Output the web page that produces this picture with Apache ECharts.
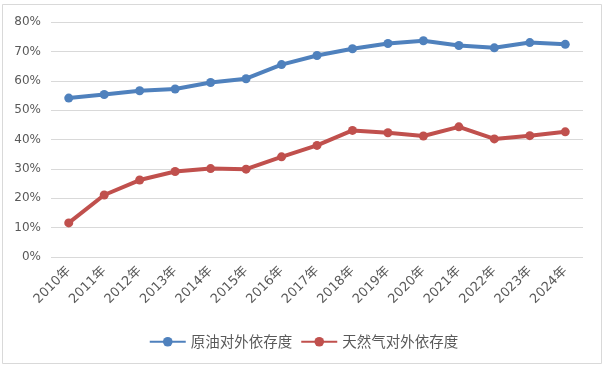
<!DOCTYPE html>
<html><head><meta charset="utf-8">
<script src="https://cdn.jsdelivr.net/npm/echarts@6/dist/echarts.min.js"></script>
<style>html,body{margin:0;padding:0;background:#fff}#c{width:607px;height:371px}</style>
</head><body><div id="c"></div>
<script>
const years = ['2010年','2011年','2012年','2013年','2014年','2015年','2016年','2017年','2018年','2019年','2020年','2021年','2022年','2023年','2024年'];
const oilName = '原油对外依存度';
const gasName = '天然气对外依存度';
const oilValues = [54.1, 55.3, 56.6, 57.2, 59.4, 60.7, 65.5, 68.6, 70.9, 72.7, 73.6, 72.0, 71.2, 73.0, 72.4];
const gasValues = [11.6, 21.1, 26.2, 29.1, 30.1, 29.9, 34.1, 38.0, 43.1, 42.3, 41.2, 44.3, 40.2, 41.3, 42.6];

const chart = echarts.init(document.getElementById('c'), null, {renderer:'canvas'});
const font = "'Noto Sans CJK SC', 'DejaVu Sans', sans-serif";
const numFont = "'DejaVu Sans', 'Noto Sans CJK SC', sans-serif";
function s(name, data, color){
  return {name, type:'line', data, symbol:'circle', symbolSize:9,
    lineStyle:{color, width:4}, itemStyle:{color}, animation:false};
}
chart.setOption({
  backgroundColor:'#fff',
  textStyle:{fontFamily:font},
  graphic:[{type:'rect', shape:{x:2.5,y:4.5,width:599,height:359}, style:{fill:'none', stroke:'#d9d9d9', lineWidth:1}, silent:true}],
  grid:{left:51, right:24, top:22, bottom:114, containLabel:false},
  legend:{bottom:17, left:'center', itemWidth:36, itemHeight:12, itemGap:8,
    textStyle:{color:'#595959', fontSize:14.5, fontFamily:font},
    data:[oilName, gasName]},
  xAxis:{type:'category', data:years, boundaryGap:true,
    axisLine:{show:false}, axisTick:{show:false},
    axisLabel:{rotate:45, color:'#595959', fontSize:13, margin:12, interval:0, fontFamily:numFont}},
  yAxis:{type:'value', min:0, max:80, interval:10,
    axisLabel:{formatter:'{value}%', color:'#595959', fontSize:12, margin:10, fontFamily:numFont},
    splitLine:{lineStyle:{color:'#d9d9d9', width:1}},
    axisLine:{show:false}, axisTick:{show:false}},
  series:[s(oilName, oilValues, '#4F81BD'), s(gasName, gasValues, '#C0504D')]
});
</script></body></html>
